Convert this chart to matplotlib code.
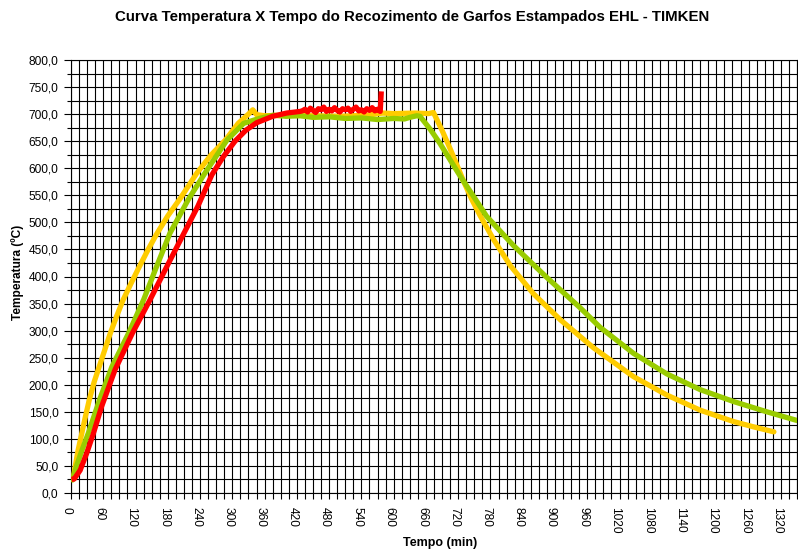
import matplotlib
matplotlib.use("Agg")
import matplotlib.pyplot as plt
from matplotlib.ticker import MultipleLocator, FuncFormatter
from matplotlib.transforms import ScaledTranslation

plt.rcParams['font.family'] = ['Liberation Sans', 'DejaVu Sans']

title = "Curva Temperatura X Tempo do Recozimento de Garfos Estampados EHL - TIMKEN"
xlabel = "Tempo (min)"
ylabel = "Temperatura (ºC)"

# Yellow series
yellow_t = [4, 8, 13, 20, 27, 34, 43, 53, 63, 73, 85, 97, 112, 127, 143, 159, 180, 203, 234, 260,
            287, 311, 330, 338, 345, 360, 400, 450, 500, 550, 580, 600, 640, 665, 674, 690, 705, 718,
            730, 745, 761, 786, 817, 860, 910, 972, 1046, 1108, 1170, 1232, 1270, 1307]
yellow_T = [26, 50, 78, 110, 142, 172, 205, 235, 265, 295, 327, 357, 388, 418, 449, 478, 512, 544, 591, 624,
            652, 683, 700, 708, 699, 697, 698, 697, 696, 698, 702, 701, 702, 701, 703, 670, 636, 605,
            576, 543, 512, 468, 420, 368, 320, 268, 215, 181, 153, 132, 122, 113]

# Green series
green_t = [3, 10, 20, 32, 53, 76, 107, 135, 159, 184, 218, 249, 290, 321, 350, 376, 400, 426, 450,
           480, 510, 540, 570, 600, 620, 630, 643, 649, 668, 686, 724, 773, 823, 885, 947, 984,
           1015, 1046, 1108, 1170, 1232, 1294, 1350]
green_T = [24, 49, 78, 110, 172, 233, 295, 357, 418, 480, 542, 591, 652, 683, 692, 698, 696, 697, 694,
           695, 692, 693, 690, 692, 691, 694, 697, 696, 672, 646, 585, 511, 457, 398, 342, 306,
           282, 258, 220, 191, 169, 150, 134]

# Red series
red_t = [1, 6, 17, 29, 41, 57, 82, 114, 147, 178, 209, 236, 262, 283, 305, 325, 345, 375, 401, 426,
         430, 435, 440, 445, 450, 455, 460, 465, 470, 475, 480, 485, 490, 495, 500, 505, 510, 515,
         520, 525, 530, 535, 540, 545, 550, 555, 560, 565, 570, 575, 577]
red_T = [25, 26, 42, 73, 108, 160, 228, 295, 357, 418, 478, 530, 588, 621, 650, 670, 684, 696, 702, 705,
         706, 709, 704, 711, 707, 703, 710, 708, 713, 705, 709, 706, 712, 707, 704, 710, 708, 711,
         705, 709, 713, 706, 708, 704, 710, 707, 712, 706, 709, 705, 742]

fig = plt.figure(figsize=(7.98, 5.5), dpi=100)
ax = fig.add_axes([71/798, 1-493/550, (797-71)/798, (493-60)/550])

lw = 3.8
ax.plot(yellow_t, yellow_T, color='#FFCC00', lw=lw, solid_joinstyle='round', solid_capstyle='round', zorder=3)
ax.plot(green_t, green_T, color='#99CC00', lw=lw, solid_joinstyle='round', solid_capstyle='round', zorder=4)
ax.plot(red_t, red_T, color='#FF0000', lw=lw, solid_joinstyle='round', solid_capstyle='butt', zorder=5)

ax.set_xlim(0, 1350)
ax.set_ylim(0, 800)

ax.xaxis.set_major_locator(MultipleLocator(60))
ax.xaxis.set_minor_locator(MultipleLocator(15))
ax.yaxis.set_major_locator(MultipleLocator(50))
ax.yaxis.set_minor_locator(MultipleLocator(25))

ax.grid(which='both', color='black', lw=0.8, zorder=1)
ax.set_axisbelow(True)

ax.yaxis.set_major_formatter(FuncFormatter(lambda v, p: f"{v:.1f}".replace('.', ',')))
ax.tick_params(axis='y', which='major', length=5, width=0.8, labelsize=8.6, pad=4)
ax.tick_params(axis='y', which='minor', length=3, width=0.8)
ax.tick_params(axis='x', which='both', length=4, width=0.8, labelsize=8.6, pad=6)
for lbl in ax.get_xticklabels():
    lbl.set_rotation(-90)
    lbl.set_va('top')
    lbl.set_ha('center')
    lbl.set_transform(lbl.get_transform() + ScaledTranslation(-4/100, 0, fig.dpi_scale_trans))

for s in ax.spines.values():
    s.set_color('black')
    s.set_linewidth(0.8)

fig.text(412/798, 1-17/550, title, ha='center', va='center', fontsize=10.8, fontweight='bold')
fig.text(440/798, 1-543/550, xlabel, ha='center', va='center', fontsize=9, fontweight='bold')
fig.text(18/798, 1-272/550, ylabel, ha='center', va='center', rotation=90, fontsize=8.6, fontweight='bold')

fig.savefig('out.png', dpi=100)
